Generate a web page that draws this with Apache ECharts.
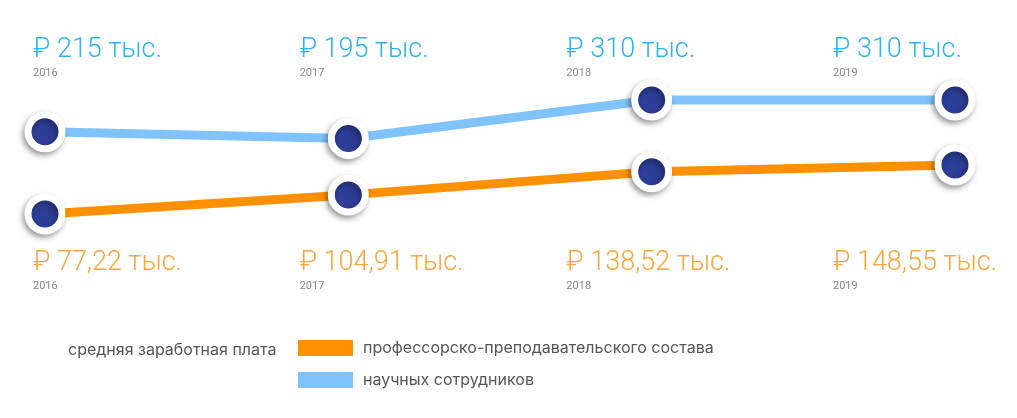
<!DOCTYPE html>
<html><head><meta charset="utf-8">
<script src="https://cdn.jsdelivr.net/npm/echarts@6/dist/echarts.min.js"></script>
<style>html,body{margin:0;padding:0;background:#fff}#c{width:1017px;height:418px}</style>
</head><body><div id="c"></div>
<script>
var years = ['2016', '2017', '2018', '2019'];
var scientists = [215, 195, 310, 310];
var professors = [77.22, 104.91, 138.52, 148.55];
var seriesNames = ['профессорско-преподавательского состава', 'научных сотрудников'];
var legendTitle = 'средняя заработная плата';

function fmt(v){ return String(v).replace('.', ','); }
var FONT = 'Roboto, "Noto Sans", sans-serif';
var LFONT = 'Inter, Roboto, sans-serif';
var BLUE_LINE = '#80c3fc', ORANGE_LINE = '#ff9100', MARK = '#2e3e98';
var markerStyle = {
  color: MARK, borderColor: '#fff', borderWidth: 7,
  shadowColor: 'rgba(0,0,0,0.35)', shadowBlur: 6, shadowOffsetX: -2, shadowOffsetY: 3
};

var chart = echarts.init(document.getElementById('c'), null, {renderer: 'canvas'});
chart.setOption({
  animation: false,
  title: {
    text: legendTitle, left: 63, top: 337,
    textStyle: {fontSize: 16, fontWeight: 'normal', color: '#555', fontFamily: LFONT}
  },
  legend: {
    orient: 'vertical', left: 293, top: 335, itemWidth: 55, itemHeight: 16, itemGap: 16,
    icon: 'rect',
    textStyle: {fontSize: 16, color: '#555', fontFamily: LFONT, padding: [0, 0, 0, 5]},
    data: [
      {name: seriesNames[0], itemStyle: {color: ORANGE_LINE, borderWidth: 0, shadowBlur: 0, shadowOffsetX: 0, shadowOffsetY: 0}},
      {name: seriesNames[1], itemStyle: {color: BLUE_LINE, borderWidth: 0, shadowBlur: 0, shadowOffsetX: 0, shadowOffsetY: 0}}
    ],
    selectedMode: false
  },
  grid: [
    {left: 45, right: 62, top: 100, bottom: 206},
    {left: 33, right: 184, top: 80, bottom: 170}
  ],
  xAxis: [
    {type: 'category', gridIndex: 0, data: years, boundaryGap: false, show: false},
    {type: 'category', gridIndex: 1, data: years, boundaryGap: false, position: 'top',
     axisLine: {show: false}, axisTick: {show: false},
     axisLabel: {interval: 0, margin: 0, align: 'left',
       formatter: function (val, idx) { return '{v|₽ ' + fmt(scientists[idx]) + ' тыс.}\n{y|' + val + '}'; },
       rich: {
         v: {fontSize: 27, color: '#2cb4ee', fontFamily: FONT, fontWeight: 300, lineHeight: 31, align: 'left'},
         y: {fontSize: 11, color: '#888', fontFamily: FONT, lineHeight: 14, align: 'left'}
       }}},
    {type: 'category', gridIndex: 1, data: years, boundaryGap: false, position: 'bottom',
     axisLine: {show: false}, axisTick: {show: false},
     axisLabel: {interval: 0, margin: 0, align: 'left',
       formatter: function (val, idx) { return '{v|₽ ' + fmt(professors[idx]) + ' тыс.}\n{y|' + val + '}'; },
       rich: {
         v: {fontSize: 27, color: '#fba53a', fontFamily: FONT, fontWeight: 300, lineHeight: 31, align: 'left'},
         y: {fontSize: 11, color: '#888', fontFamily: FONT, lineHeight: 14, align: 'left'}
       }}}
  ],
  yAxis: [
    {type: 'value', gridIndex: 0, min: -25, max: 310, show: false},
    {type: 'value', gridIndex: 0, min: 80, max: 243, show: false},
    {type: 'value', gridIndex: 1, show: false}
  ],
  series: [
    {name: seriesNames[1], type: 'line', xAxisIndex: 0, yAxisIndex: 0, data: scientists, clip: false,
     symbol: 'circle', symbolSize: 34, lineStyle: {color: BLUE_LINE, width: 9},
     itemStyle: markerStyle, z: 3},
    {name: seriesNames[0], type: 'line', xAxisIndex: 0, yAxisIndex: 1, data: professors, clip: false,
     symbol: 'circle', symbolSize: 34, lineStyle: {color: ORANGE_LINE, width: 9},
     itemStyle: markerStyle, z: 3}
  ]
});
</script></body></html>
